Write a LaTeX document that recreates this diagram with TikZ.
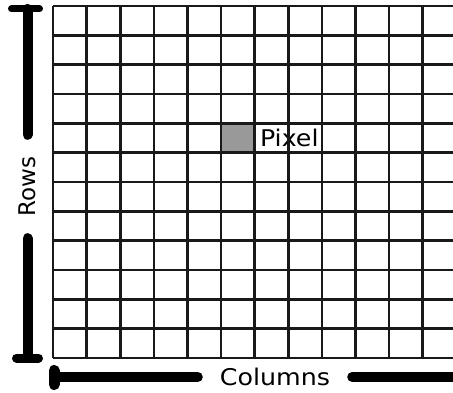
\documentclass[tikz,border=0pt]{standalone}
\usepackage{fontspec}
\setmainfont{DejaVu Sans}
\usepackage{graphicx}
\usepackage{tikz}
\usetikzlibrary{positioning}

\newcommand{\stretched}[1]{\scalebox{1.1}[1]{#1}}

\begin{document}
\begin{tikzpicture}[
    x=1pt, y=1pt,
    node distance=5pt,
    gridline/.style={line width=2.6pt, black!90},
    bar/.style={line width=10pt, line cap=round},
    capline/.style={line width=7pt, line cap=round},
    txt/.style={font=\fontsize{23}{27}\selectfont, inner sep=0pt},
    pixcell/.style={rectangle, minimum width=33.6pt, minimum height=29.33pt,
                    inner sep=0pt, fill=black!40}
]
\useasboundingbox (0,0) rectangle (453,392);
% Pixel — highlighted cell
\node[pixcell] (pix) at (237.8,254) {};
\node[txt, right=5pt of pix] (pixlbl) {\stretched{Pixel}};
% Grid
\foreach \c in {0,...,12}
  \draw[gridline] ({53+33.6*\c},34) -- ({53+33.6*\c},386);
\foreach \r in {0,...,12}
  \draw[gridline] (53,{34+29.33*\r}) -- (456.2,{34+29.33*\r});
% Left — Rows
\coordinate (rtop) at (27.5,383);
\coordinate (rbot) at (27.5,34);
\node[txt, rotate=90, minimum width=103pt] (rows) at (27.5,205.5) {Rows};
\draw[bar] (rtop) -- (rows);
\draw[bar] (rows) -- (rbot);
\draw[capline] ([xshift=-16pt]rtop) -- ([xshift=12pt]rtop);
\draw[capline, line width=9pt] ([xshift=-11pt]rbot) -- ([xshift=11pt]rbot);
% Bottom — Columns
\coordinate (cleft) at (54,15);
\coordinate (cright) at (458,15);
\node[txt, minimum width=154pt] (cols) at (275,15) {\stretched{Columns}};
\draw[bar] (cleft) -- (cols);
\draw[bar] (cols) -- (cright);
\draw[capline, line width=11pt] ([yshift=6.5pt]cleft) -- ([yshift=-7.5pt]cleft);
\draw[capline, line width=11pt] ([yshift=6.5pt]cright) -- ([yshift=-7.5pt]cright);
\end{tikzpicture}
\end{document}
